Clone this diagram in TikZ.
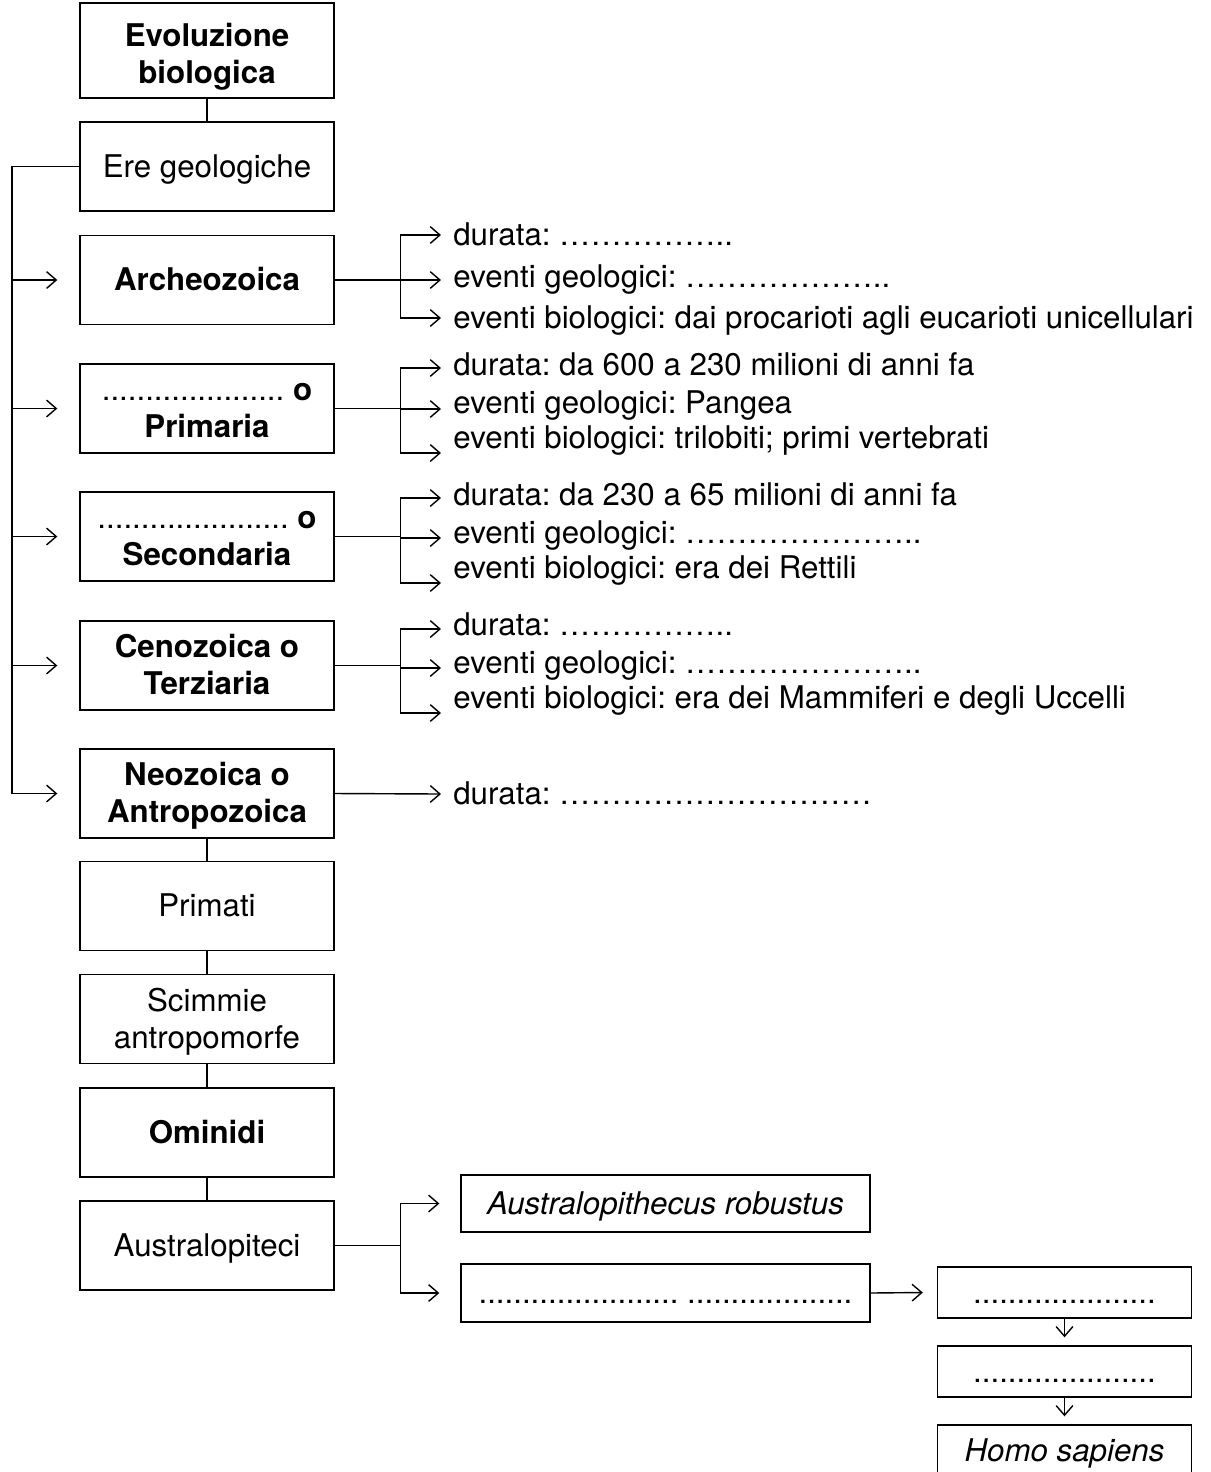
\documentclass[tikz,border=0pt]{standalone}
\usepackage{fontspec}
\setmainfont{TeX Gyre Heros}
\usetikzlibrary{positioning,arrows.meta,calc}
\newcommand{\fsz}{\fontsize{17.8}{21}\selectfont\frenchspacing}
\tikzset{
  box/.style={draw,line width=0.8pt,minimum width=5.08cm,minimum height=1.78cm,align=center,inner sep=2pt,font=\fsz,text height=14.2pt,text depth=2.2pt},
  twoline/.style={box,text height=35.2pt},
  note/.style={anchor=west,inner sep=0pt,text height=1.2em,text depth=0.04em,font=\fsz},
  arr/.style={-{Straight Barb[length=5.5pt,width=9.5pt]},line width=0.8pt},
  link/.style={line width=0.8pt},
}

\begin{document}
\begin{tikzpicture}[x=0.02cm,y=-0.02cm]
\useasboundingbox (0,0) rectangle (1211,1472);
\node[twoline,minimum height=1.9cm,text height=39.8pt] (evo) at (207,50.5) {\textbf{Evoluzione}\\\textbf{biologica}};
\node[box] (ere) at (207,166.5) {Ere geologiche};
\node[box] (arc) at (207,280) {\textbf{Archeozoica}};
\node[twoline] (pri) at (207,408.5) {..................... \textbf{o}\\\textbf{Primaria}};
\node[twoline] (sec) at (207,536.5) {...................... \textbf{o}\\\textbf{Secondaria}};
\node[twoline] (ceno) at (207,665.5) {\textbf{Cenozoica o}\\\textbf{Terziaria}};
\node[twoline] (neo) at (207,793.5) {\textbf{Neozoica o}\\\textbf{Antropozoica}};
\node[box] (prim) at (207,906) {Primati};
\node[twoline] (scim) at (207,1019) {Scimmie\\antropomorfe};
\node[box] (omin) at (207,1132.5) {\textbf{Ominidi}};
\node[box] (aus) at (207,1245.5) {Australopiteci};
\foreach \a/\b in {evo/ere,neo/prim,prim/scim,scim/omin,omin/aus}{\draw[link] (\a) -- (\b);}
\coordinate (bus) at (12,166.5);
\draw[link] (ere.west) -- (bus) -- (bus |- neo.west);
\foreach \n in {arc,pri,sec,ceno,neo}{\draw[arr] (bus |- \n.west) -- ($(\n.west)+(-22,0)$);}
\node[note] (arc1) at (453,235) {durata: ……………..};
\node[note] (arc2) at (453,277) {eventi geologici: ………………..};
\node[note] (arc3) at (453,318) {eventi biologici: dai procarioti agli eucarioti unicellulari};
\node[note] (pri1) at (453,365) {durata: da 600 a 230 milioni di anni fa};
\node[note] (pri2) at (453,403) {eventi geologici: Pangea};
\node[note] (pri3) at (453,438) {eventi biologici: trilobiti; primi vertebrati};
\node[note] (sec1) at (453,495) {durata: da 230 a 65 milioni di anni fa};
\node[note] (sec2) at (453,533) {eventi geologici: …………………..};
\node[note] (sec3) at (453,568) {eventi biologici: era dei Rettili};
\node[note] (ceno1) at (453,625) {durata: ……………..};
\node[note] (ceno2) at (453,663) {eventi geologici: …………………..};
\node[note] (ceno3) at (453,698) {eventi biologici: era dei Mammiferi e degli Uccelli};
\node[note] (neo1) at (453,794) {durata: …………………………};
\foreach \e/\da/\db/\dc in {arc/0/3/0,pri/3/6/15,sec/3/5/15,ceno/4/5/15}{
  \coordinate (j\e) at ($(\e.east)+(66,0)$);
  \draw[link] (\e.east) -- (j\e);
  \foreach \i/\d in {1/\da,2/\db,3/\dc}{\draw[arr] (j\e) |- ($(\e\i.west)+(-12,\d)$);}
}
\draw[arr] (neo.east) -- ($(neo1.west)+(-12,0)$);
\node[box,minimum width=8.18cm,minimum height=1.14cm,font=\fsz\itshape] (rob) at (665.5,1203.5) {Australopithecus robustus};
\node[box,minimum width=8.18cm,minimum height=1.16cm] (dots) at (665.5,1293) {....................... ...................};
\node[box,minimum height=1.02cm] (r1) at (1064.5,1292.5) {.....................};
\node[box,minimum height=1.02cm] (r2) at (1064.5,1371.5) {.....................};
\node[box,minimum height=1.02cm,font=\fsz\itshape] (homo) at (1064.5,1450.5) {Homo sapiens};
\coordinate (jaus) at ($(aus.east)+(66,0)$);
\draw[link] (aus.east) -- (jaus);
\foreach \n in {rob,dots}{\draw[arr] (jaus) |- ($(\n.west)+(-21,0)$);}
\draw[arr] (dots.east) -- ($(r1.west)+(-14,0)$);
\draw[arr] (r1.south) -- ($(r2.north)+(0,-8)$);
\draw[arr] (r2.south) -- ($(homo.north)+(0,-8)$);
\end{tikzpicture}
\end{document}
